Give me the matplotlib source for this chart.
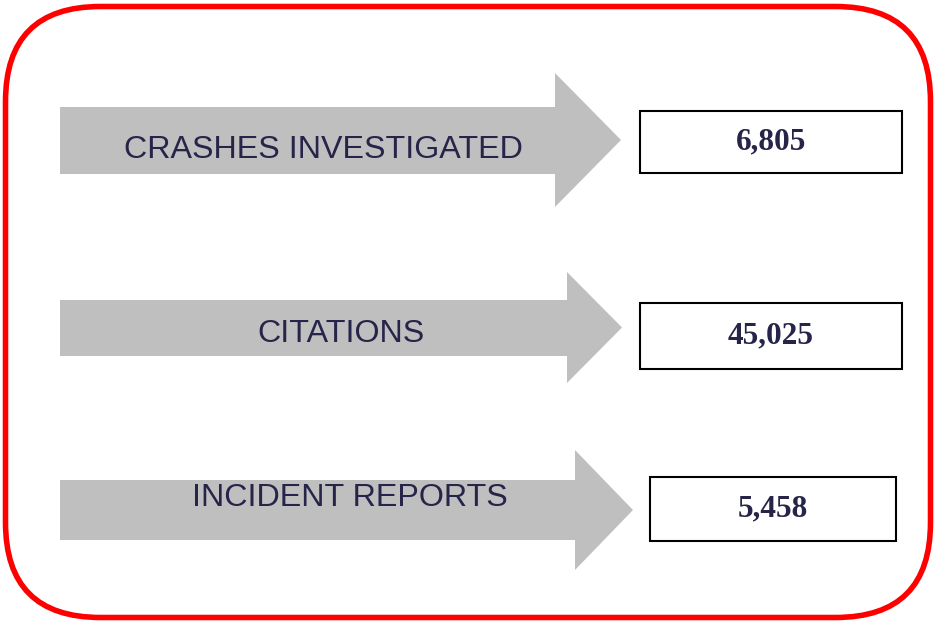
import matplotlib
matplotlib.use("Agg")
import matplotlib.pyplot as plt
from matplotlib.patches import Polygon, Rectangle, FancyBboxPatch

# ---- data ----
categories = ["CRASHES INVESTIGATED", "CITATIONS", "INCIDENT REPORTS"]
values = [6805, 45025, 5458]

# ---- layout (pixels, y down) ----
shaft_left = 60
shaft_top = [107, 300, 480]
shaft_bot = [174, 356, 540]
head_base = [555, 567, 575]
head_top = [73, 272, 450]
head_bot = [207, 383, 570]
head_tip = [621, 622, 633]
label_x = [323, 341, 350]
label_y = [150.5, 334, 498]
box_x0 = [640, 640, 650]
box_x1 = [902, 902, 896]
box_y0 = [111, 303, 477]
box_y1 = [173, 369, 541]

W, H = 937, 622
fig = plt.figure(figsize=(W / 100, H / 100), dpi=100)
ax = fig.add_axes([0, 0, 1, 1])
ax.set_xlim(0, W)
ax.set_ylim(H, 0)
ax.axis("off")

text_color = "#27244a"
arrow_color = "#bfbfbf"

# red rounded border
border = FancyBboxPatch((5.5, 6.5), 925, 611, boxstyle="round,pad=0,rounding_size=95",
                        linewidth=4, edgecolor="#ff0000", facecolor="white", zorder=1)
ax.add_patch(border)

for i, (cat, val) in enumerate(zip(categories, values)):
    yc = (head_top[i] + head_bot[i]) / 2
    pts = [(shaft_left, shaft_top[i]), (head_base[i], shaft_top[i]),
           (head_base[i], head_top[i]), (head_tip[i], yc),
           (head_base[i], head_bot[i]), (head_base[i], shaft_bot[i]),
           (shaft_left, shaft_bot[i])]
    ax.add_patch(Polygon(pts, closed=True, facecolor=arrow_color, edgecolor="none", zorder=2))
    ax.text(label_x[i], label_y[i], cat, ha="center", va="center", fontsize=23.2,
            family="Liberation Sans", color=text_color, zorder=3)
    ax.add_patch(Rectangle((box_x0[i], box_y0[i]), box_x1[i] - box_x0[i], box_y1[i] - box_y0[i],
                           facecolor="white", edgecolor="black", linewidth=1.5, zorder=2))
    ax.text((box_x0[i] + box_x1[i]) / 2, (box_y0[i] + box_y1[i]) / 2, f"{val:,}",
            ha="center", va="center", fontsize=22.5, family="Liberation Serif",
            fontweight="bold", color=text_color, zorder=3)

fig.savefig("out.png", dpi=100)
